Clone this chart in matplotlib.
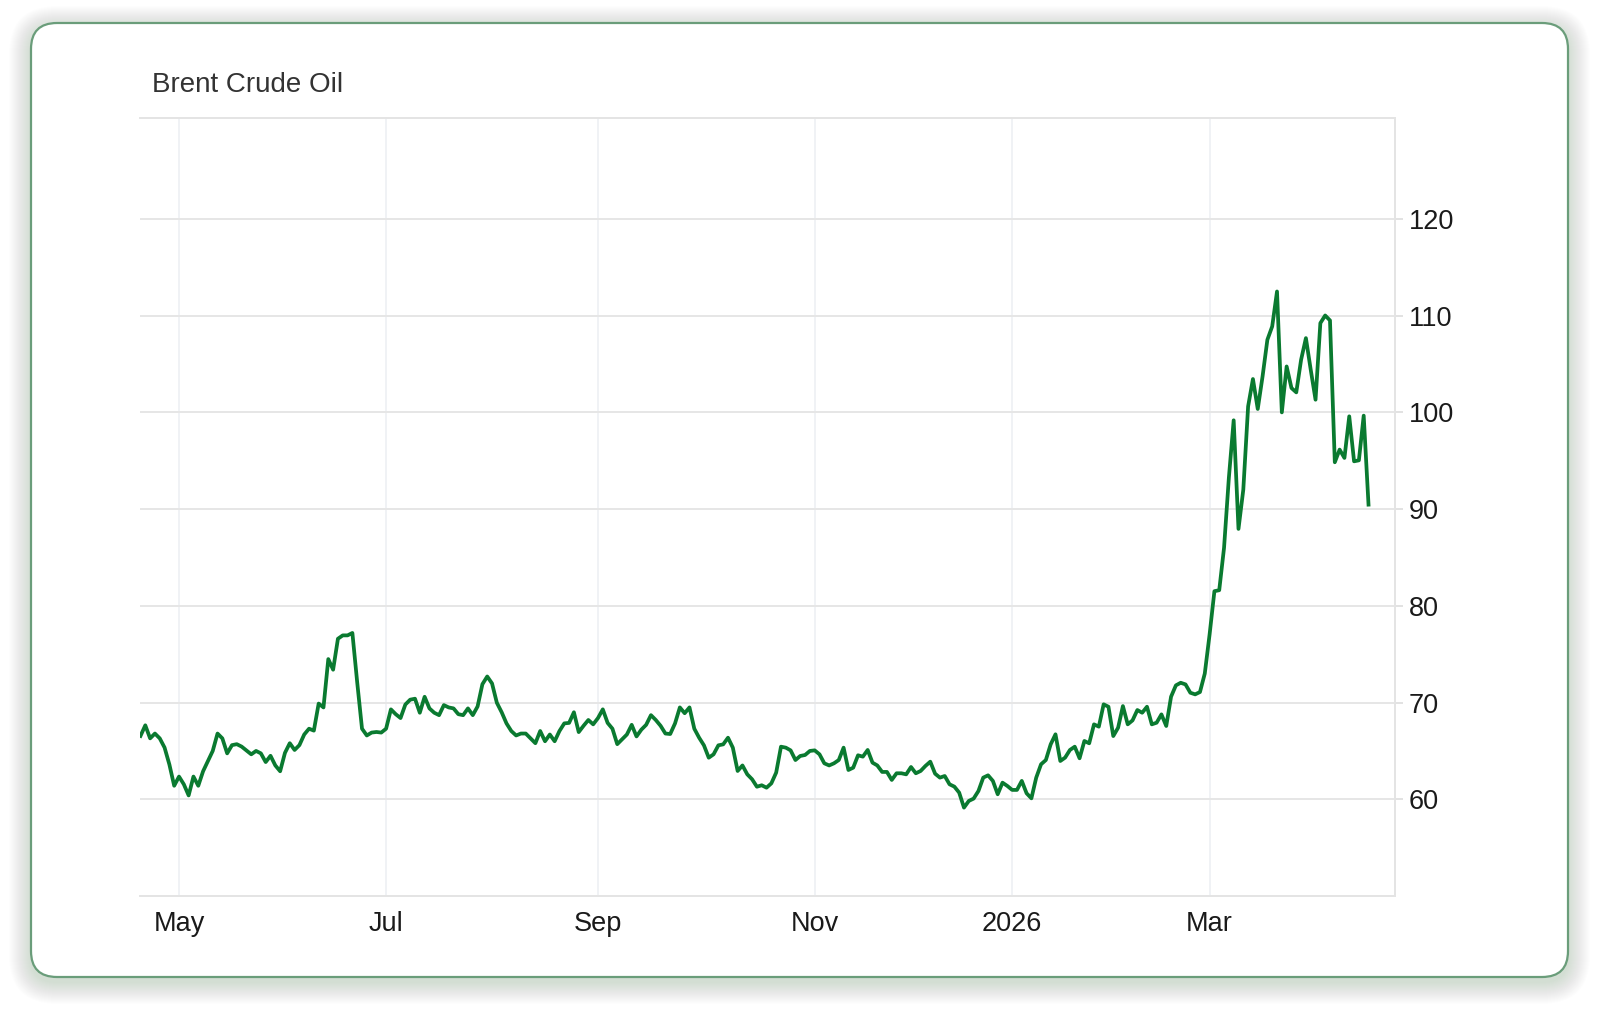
import matplotlib
matplotlib.use('Agg')
import matplotlib.pyplot as plt
import matplotlib.patches as patches
import matplotlib.transforms as mtransforms
import numpy as np
import pandas as pd

plt.rcParams['font.family'] = ['Liberation Sans', 'DejaVu Sans']

# Brent daily close (one value per trading day)
price = [
    66.55, 67.65, 66.3, 66.8, 66.3, 65.35, 63.6, 61.4, 62.35, 61.55,
    60.4, 62.35, 61.4, 62.9, 63.95, 65.0, 66.8, 66.3, 64.75, 65.6,
    65.7, 65.45, 65.05, 64.65, 65.0, 64.75, 63.85, 64.5, 63.5, 62.9,
    64.8, 65.8, 65.1, 65.6, 66.7, 67.3, 67.1, 69.9, 69.5, 74.5,
    73.4, 76.6, 76.95, 76.95, 77.2, 72.1, 67.3, 66.6, 66.9, 66.96,
    66.9, 67.3, 69.3, 68.8,
    68.4, 69.8, 70.3, 70.4, 68.95, 70.6, 69.4, 68.95, 68.7, 69.74,
    69.5, 69.4, 68.8, 68.7, 69.4, 68.7, 69.6, 71.9, 72.7, 71.98,
    69.98, 69.0, 67.85, 67.06, 66.6, 66.8, 66.8, 66.3, 65.8, 67.06,
    66.0, 66.7, 66.0, 67.06, 67.85, 67.9, 69.0, 66.95, 67.6, 68.2,
    67.75, 68.4, 69.3, 67.9, 67.3, 65.7, 66.2, 66.7, 67.7, 66.5,
    67.2, 67.7, 68.7, 68.2, 67.6, 66.8, 66.75, 67.85, 69.5, 68.9,
    69.5,
    67.3, 66.37, 65.58, 64.3, 64.65, 65.58, 65.68, 66.37, 65.34, 62.93,
    63.5, 62.58, 62.07, 61.3, 61.45, 61.2, 61.65, 62.76, 65.44, 65.34,
    65.06, 64.06, 64.48, 64.58, 65.0, 65.06, 64.65, 63.72, 63.5, 63.72,
    64.06, 65.34, 63.03, 63.27, 64.55, 64.41, 65.1, 63.79, 63.5, 62.83,
    62.83, 62.0, 62.69, 62.69, 62.58, 63.34, 62.69, 62.93, 63.45, 63.89,
    62.65, 62.24, 62.41, 61.55, 61.31, 60.69, 59.14, 59.83, 60.07, 60.86,
    62.24, 62.48, 61.9, 60.52,
    61.72, 61.38, 60.97, 60.97, 61.9, 60.62, 60.1, 62.24, 63.62, 64.06,
    65.68, 66.72, 63.96, 64.31, 65.1, 65.44, 64.24, 66.03, 65.79, 67.75,
    67.51, 69.82, 69.57, 66.54, 67.4, 69.64, 67.75, 68.16, 69.23, 68.95,
    69.57, 67.75, 67.92, 68.78, 67.58, 70.61, 71.78, 72.05, 71.88, 71.02,
    70.85, 71.09, 73.0,
    77.04, 81.52, 81.62, 86.0, 93.23, 99.19, 87.96, 92.02, 100.63, 103.46,
    100.36, 103.73, 107.52, 108.9, 112.51, 100.01, 104.76, 102.53, 102.08, 105.45,
    107.69, 104.42, 101.32, 109.24, 110.03, 109.52, 94.85, 96.16, 95.3, 99.6,
    94.95, 95.05, 99.67, 90.47,
]
holidays = ['2025-12-25', '2025-12-26', '2026-01-01', '2026-04-03']
dates = pd.bdate_range('2025-04-21', periods=len(price), freq='C', holidays=holidays)

month_starts = ['2025-05-01', '2025-07-01', '2025-09-01', '2025-11-01', '2026-01-01', '2026-03-01']
month_labels = ['May', 'Jul', 'Sep', 'Nov', '2026', 'Mar']
y_ticks = [60, 70, 80, 90, 100, 110, 120]

W, H = 1600, 1009
fig = plt.figure(figsize=(W / 100, H / 100), dpi=100)
fig.patch.set_facecolor('white')

# card with soft green shadow (pixel coordinates)
px = mtransforms.IdentityTransform()
cx, cy, cw, ch = 31, H - 977, 1537, 954
for i in range(22, 0, -1):
    sh = patches.FancyBboxPatch((cx - i, cy - 5 - i), cw + 2 * i, ch + 2 * i,
                                boxstyle=patches.BoxStyle('Round', pad=0, rounding_size=26 + i),
                                transform=px, facecolor='#2e6b47', edgecolor='none',
                                alpha=0.006, zorder=0)
    fig.patches.append(sh)
card = patches.FancyBboxPatch((cx, cy), cw, ch,
                              boxstyle=patches.BoxStyle('Round', pad=0, rounding_size=26),
                              transform=px, facecolor='white', edgecolor='#6a9d7a',
                              linewidth=1.6, zorder=1)
fig.patches.append(card)

fig.text(152 / W, 1 - 92 / H, 'Brent Crude Oil', fontsize=20, color='#333333',
         ha='left', va='baseline')

ax = fig.add_axes([140 / W, (H - 896) / H, (1395 - 140) / W, (896 - 118) / H])
ax.set_facecolor('none')
ax.set_zorder(2)

# trading-day axis: points evenly spaced, ticks on first session of each month
idx = np.arange(len(price))
ax.plot(idx, price, color='#0a7a30', linewidth=2.7, solid_joinstyle='round', zorder=3)

ax.set_ylim(50, 130.45)
ax.set_xlim(-0.1, 260.5)

ax.yaxis.tick_right()
ax.set_yticks(y_ticks)
ax.set_yticklabels([str(v) for v in y_ticks])
ticks_x = [int(np.argmax(dates >= pd.Timestamp(m))) for m in month_starts]
ax.set_xticks(ticks_x)
ax.set_xticklabels(month_labels)

ax.tick_params(axis='y', which='both', length=5.8, width=1.4, color='#e2e2e2',
               pad=4.3, labelsize=19.5, labelcolor='#1a1a1a')
ax.tick_params(axis='x', which='both', length=0, pad=11, labelsize=19.5, labelcolor='#1a1a1a')

ax.grid(axis='y', color='#e6e6e6', linewidth=1.4)
ax.grid(axis='x', color='#edf0f4', linewidth=1.2)
ax.set_axisbelow(True)

for side in ['top', 'bottom', 'right']:
    ax.spines[side].set_color('#e4e4e4')
    ax.spines[side].set_linewidth(1.4)
ax.spines['left'].set_visible(False)

fig.savefig('out.png', dpi=100, facecolor='white')
